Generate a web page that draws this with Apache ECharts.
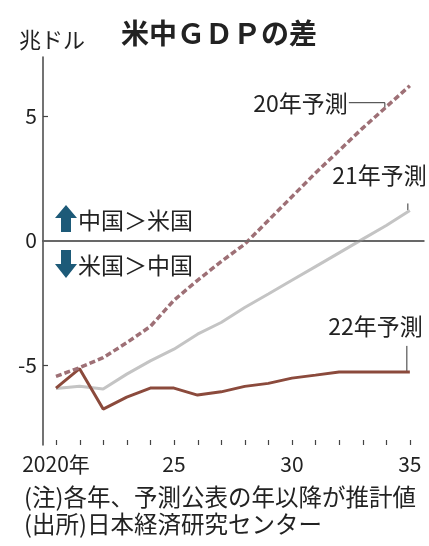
<!DOCTYPE html>
<html>
<head>
<meta charset="utf-8">
<script src="https://cdn.jsdelivr.net/npm/echarts@6/dist/echarts.min.js"></script>
<style>
  html, body { margin: 0; padding: 0; background: #fff; }
  #chart { width: 429px; height: 546px; }
</style>
</head>
<body>
<div id="chart"></div>
<script>
// 年
var years = [2020, 2021, 2022, 2023, 2024, 2025, 2026, 2027, 2028, 2029, 2030, 2031, 2032, 2033, 2034, 2035];
// 米中GDPの差（兆ドル）
var f20 = [-5.45, -5.1, -4.7, -4.1, -3.45, -2.4, -1.6, -0.85, -0.15, 0.8, 1.75, 2.7, 3.6, 4.5, 5.35, 6.2];
var f21 = [-5.94, -5.85, -5.96, -5.36, -4.83, -4.36, -3.76, -3.29, -2.69, -2.15, -1.6, -1.05, -0.5, 0.05, 0.6, 1.2];
var f22 = [-5.92, -5.14, -6.76, -6.28, -5.92, -5.92, -6.2, -6.07, -5.85, -5.73, -5.52, -5.4, -5.27, -5.27, -5.27, -5.27];
// 目盛り
var yTicks = [-5, 0, 5];
var xLabels = [2020, 2025, 2030, 2035];

var FONT = "Noto Sans CJK JP";
var TXT = "#222";
var AXIS = "#444";

function pairs(arr) {
  return years.map(function (y, i) { return [y, arr[i]]; });
}

var chart = echarts.init(document.getElementById("chart"));
chart.setOption({
  animation: false,
  backgroundColor: "#fff",
  grid: { left: 43, right: 5, top: 57, bottom: 101 },
  xAxis: {
    type: "value",
    min: 2019.45,
    max: 2035.6,
    axisLine: { lineStyle: { color: AXIS, width: 1.5 } },
    axisTick: { show: false },
    axisLabel: {
      customValues: xLabels,
      margin: 9,
      fontSize: 21,
      fontFamily: FONT,
      color: TXT,
      formatter: function (v) { return v === 2020 ? "2020年" : String(v).slice(2); }
    },
    splitLine: { show: false }
  },
  yAxis: {
    type: "value",
    min: -8.2,
    max: 7.35,
    axisLine: { show: true, lineStyle: { color: AXIS, width: 1.5 } },
    axisTick: { show: false },
    axisLabel: { customValues: yTicks, margin: 6, fontSize: 21, fontFamily: FONT, color: TXT },
    splitLine: { show: false }
  },
  series: [
    {
      name: "21年予測",
      type: "line",
      data: pairs(f21),
      showSymbol: false,
      lineStyle: { color: "#c4c4c4", width: 3 },
      markLine: {
        silent: true,
        symbol: "none",
        label: { show: false },
        lineStyle: { color: "#666", width: 1.5, type: "solid" },
        data: [{ yAxis: 0 }]
      }
    },
    {
      name: "22年予測",
      type: "line",
      data: pairs(f22),
      showSymbol: false,
      lineStyle: { color: "#8b4a3c", width: 3 }
    },
    {
      name: "20年予測",
      type: "line",
      data: pairs(f20),
      showSymbol: false,
      lineStyle: { color: "#9e7076", width: 3.5, type: [6, 3] }
    }
  ]
});

// 注記類（線の端点から位置を決める）
var p20 = chart.convertToPixel({ gridIndex: 0 }, [2035, f20[15]]);
var p21 = chart.convertToPixel({ gridIndex: 0 }, [2035, f21[15]]);
var p22 = chart.convertToPixel({ gridIndex: 0 }, [2035, f22[15]]);

function label(text, x, y, align, size, weight) {
  return {
    type: "text", x: x, y: y, silent: true,
    style: {
      text: text, fill: TXT, fontSize: size || 21, fontWeight: weight || "normal",
      fontFamily: FONT, textAlign: align || "left", textVerticalAlign: "middle"
    }
  };
}
function line(points, color, width) {
  return {
    type: "polyline", silent: true,
    shape: { points: points },
    style: { stroke: color || "#333", lineWidth: width || 1, fill: null }
  };
}

// 目盛り線（内向き）
var ticks = [];
var axisY = chart.convertToPixel({ yAxisIndex: 0 }, -8.2);
years.forEach(function (y) {
  var px = Math.round(chart.convertToPixel({ xAxisIndex: 0 }, y)) + 0.5;
  ticks.push(line([[px, axisY], [px, axisY - 5]], AXIS, 1.2));
});
var axisX = chart.convertToPixel({ xAxisIndex: 0 }, 2019.45);
yTicks.forEach(function (v) {
  if (v === 0) return;
  var py = Math.round(chart.convertToPixel({ yAxisIndex: 0 }, v)) + 0.5;
  ticks.push(line([[axisX, py], [axisX + 5, py]], AXIS, 1.2));
});

var ARROW = "#1d5a78";
chart.setOption({
  graphic: ticks.concat([
    label("米中ＧＤＰの差", 121, 33, "left", 28, "bold"),
    label("兆ドル", 19, 40, "left", 22),
    label("20年予測", p20[0] - 62, p20[1] + 18, "right", 23),
    line([[p20[0] - 61, p20[1] + 17], [p20[0] - 25, p20[1] + 17], [p20[0] - 25, p20[1] + 22]]),
    label("21年予測", p21[0] + 17, p21[1] - 35, "right", 23),
    line([[p21[0] - 2, p21[1] - 7], [p21[0] - 2, p21[1]]]),
    label("22年予測", p22[0] + 13, p22[1] - 46, "right", 23),
    line([[p22[0] - 3, p22[1] - 26], [p22[0] - 3, p22[1]]]),
    {
      type: "polygon", silent: true,
      shape: { points: [[66, 205], [77, 218], [71, 218], [71, 232], [61, 232], [61, 218], [55, 218]] },
      style: { fill: ARROW }
    },
    label("中国＞米国", 78, 220, "left", 23),
    {
      type: "polygon", silent: true,
      shape: { points: [[61, 250], [71, 250], [71, 264], [77, 264], [66, 278], [55, 264], [61, 264]] },
      style: { fill: ARROW }
    },
    label("米国＞中国", 78, 265, "left", 23),
    label("(注)各年、予測公表の年以降が推計値", 24, 497, "left", 23.5),
    label("(出所)日本経済研究センター", 24, 524, "left", 23.5)
  ])
});
</script>
</body>
</html>
